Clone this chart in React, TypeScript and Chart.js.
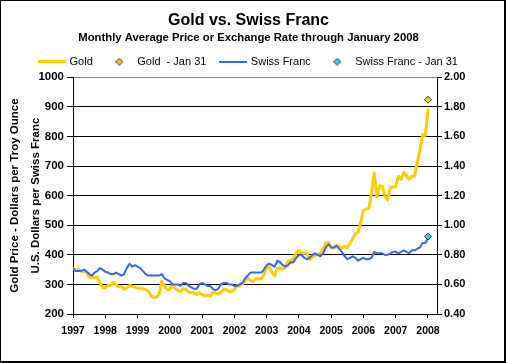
import React, { useEffect, useRef } from 'react';
import { Chart, registerables } from 'chart.js';

Chart.register(...registerables);

// ---------- data ----------
const FIRST_YEAR = 1997;

// Monthly average gold price, USD per troy ounce, Jan 1997 .. Jan 2008
const goldPrice = [
  355, 347, 352, 344, 344, 341, 324, 324, 323, 325, 306, 289,
  289, 297, 296, 308, 299, 292, 293, 284, 289, 296, 294, 291,
  287, 288, 286, 282, 277, 262, 256, 257, 265, 311, 293, 283,
  284, 300, 286, 280, 275, 286, 282, 274, 273, 270, 266, 272,
  266, 262, 263, 261, 272, 270, 268, 273, 283, 283, 276, 276,
  282, 296, 294, 302, 314, 321, 314, 310, 319, 317, 319, 333,
  357, 359, 340, 328, 355, 356, 351, 360, 379, 379, 389, 407,
  414, 405, 406, 404, 384, 392, 398, 400, 406, 420, 439, 442,
  424, 423, 434, 429, 422, 430, 424, 438, 456, 470, 476, 510,
  549, 555, 557, 610, 676, 596, 633, 632, 598, 585, 627, 629,
  631, 665, 655, 679, 667, 655, 665, 665, 712, 754, 806, 803,
  889,
];

// Monthly average exchange rate, USD per Swiss franc, Jan 1997 .. Jan 2008
const francRate = [
  0.71, 0.69, 0.69, 0.69, 0.70, 0.69, 0.67, 0.66, 0.68, 0.69, 0.71, 0.70,
  0.685, 0.68, 0.67, 0.67, 0.68, 0.67, 0.66, 0.67, 0.71, 0.74, 0.72, 0.73,
  0.72, 0.71, 0.69, 0.67, 0.66, 0.66, 0.66, 0.66, 0.66, 0.67, 0.64, 0.63,
  0.62, 0.60, 0.60, 0.60, 0.59, 0.61, 0.61, 0.59, 0.58, 0.57, 0.57, 0.60,
  0.61, 0.60, 0.59, 0.59, 0.57, 0.56, 0.57, 0.60, 0.61, 0.61, 0.60, 0.60,
  0.59, 0.59, 0.60, 0.61, 0.64, 0.66, 0.68, 0.68, 0.68, 0.68, 0.68, 0.70,
  0.73, 0.74, 0.73, 0.72, 0.76, 0.75, 0.73, 0.72, 0.73, 0.75, 0.75, 0.78,
  0.80, 0.80, 0.78, 0.77, 0.78, 0.80, 0.81, 0.80, 0.79, 0.81, 0.85, 0.87,
  0.85, 0.85, 0.86, 0.84, 0.82, 0.79, 0.77, 0.78, 0.79, 0.78, 0.76, 0.77,
  0.78, 0.77, 0.77, 0.78, 0.82, 0.81, 0.81, 0.81, 0.80, 0.80, 0.81, 0.82,
  0.82, 0.81, 0.82, 0.83, 0.82, 0.81, 0.83, 0.83, 0.84, 0.85, 0.88, 0.88,
  0.91,
];

// Jan 31, 2008 spot values
const jan31Year = [2008];
const goldJan31 = [924];
const francJan31 = [0.924];

const seriesLabels = ['Gold', 'Gold  - Jan 31', 'Swiss Franc', 'Swiss Franc - Jan 31'];
const yearTicks = [1997, 1998, 1999, 2000, 2001, 2002, 2003, 2004, 2005, 2006, 2007, 2008];
const goldTicks = [200, 300, 400, 500, 600, 700, 800, 900, 1000];
const francTicks = [0.4, 0.6, 0.8, 1.0, 1.2, 1.4, 1.6, 1.8, 2.0];
const titleText = 'Gold vs. Swiss Franc';
const subtitleText = 'Monthly Average Price or Exchange Rate through January 2008';
const leftAxisTitle = ['Gold Price - Dollars per Troy Ounce', 'U.S. Dollars per Swiss Franc'];

// ---------- styles ----------
const FONT = "'Liberation Sans', Arial, Helvetica, sans-serif";
const GOLD = '#FFCC00';
const BLUE = '#3366FF';
const CYAN = '#33CCFF';
const MARK_EDGE = '#333333';

function lineSwatch(color: string, w: number, h: number) {
  const c = document.createElement('canvas');
  c.width = w;
  c.height = h;
  const g = c.getContext('2d')!;
  g.fillStyle = color;
  g.fillRect(0, 0, w, h);
  return c;
}

function diamondSwatch(fill: string, stroke: string) {
  const c = document.createElement('canvas');
  c.width = 8;
  c.height = 8;
  const g = c.getContext('2d')!;
  g.beginPath();
  g.moveTo(4, 0.5);
  g.lineTo(7.5, 4);
  g.lineTo(4, 7.5);
  g.lineTo(0.5, 4);
  g.closePath();
  g.fillStyle = fill;
  g.fill();
  g.strokeStyle = stroke;
  g.lineWidth = 1;
  g.stroke();
  return c;
}

export default function App() {
  const ref = useRef<HTMLCanvasElement>(null);

  useEffect(() => {
    const monthX = (i: number) => FIRST_YEAR + i / 12;
    const goldPoints = goldPrice.map((v, i) => ({ x: monthX(i), y: v }));
    const francPoints = francRate.map((v, i) => ({ x: monthX(i), y: v }));
    const goldJanPoints = goldJan31.map((v, i) => ({ x: jan31Year[i], y: v }));
    const francJanPoints = francJan31.map((v, i) => ({ x: jan31Year[i], y: v }));

    const swatches = [
      lineSwatch(GOLD, 28, 3),
      diamondSwatch(GOLD, MARK_EDGE),
      lineSwatch(BLUE, 28, 2),
      diamondSwatch(CYAN, MARK_EDGE),
    ];
    const swatchColors = [GOLD, GOLD, BLUE, CYAN];

    const chart = new Chart(ref.current!, {
      type: 'line',
      data: {
        datasets: [
          {
            label: seriesLabels[0],
            data: goldPoints,
            yAxisID: 'y',
            borderColor: GOLD,
            backgroundColor: GOLD,
            borderWidth: 3,
            pointRadius: 0,
            borderJoinStyle: 'round',
            borderCapStyle: 'round',
            order: 3,
          },
          {
            label: seriesLabels[1],
            data: goldJanPoints,
            yAxisID: 'y',
            showLine: false,
            pointStyle: 'rectRot',
            pointRadius: 3.5,
            backgroundColor: GOLD,
            borderColor: MARK_EDGE,
            borderWidth: 1,
            order: 0,
          },
          {
            label: seriesLabels[2],
            data: francPoints,
            yAxisID: 'y1',
            borderColor: BLUE,
            backgroundColor: BLUE,
            borderWidth: 2,
            pointRadius: 0,
            borderJoinStyle: 'round',
            order: 2,
          },
          {
            label: seriesLabels[3],
            data: francJanPoints,
            yAxisID: 'y1',
            showLine: false,
            pointStyle: 'rectRot',
            pointRadius: 3.5,
            backgroundColor: CYAN,
            borderColor: MARK_EDGE,
            borderWidth: 1,
            order: 1,
          },
        ],
      },
      options: {
        responsive: false,
        animation: false,
        devicePixelRatio: 1,
        events: [],
        layout: { padding: { left: 0, right: 9, top: 0, bottom: 0 } },
        plugins: {
          title: {
            display: true,
            text: titleText,
            color: '#000',
            font: { family: FONT, size: 16, weight: 'bold', lineHeight: 1.55 },
            padding: { top: 8.6, bottom: 0 },
          },
          subtitle: {
            display: true,
            text: subtitleText,
            color: '#000',
            font: { family: FONT, size: 11.3, weight: 'bold', lineHeight: 0.78 },
            padding: { top: 0, bottom: 0 },
          },
          legend: {
            display: true,
            position: 'top',
            labels: {
              usePointStyle: true,
              pointStyleWidth: 25,
              padding: 14,
              color: '#000',
              font: { family: FONT, size: 11 },
              generateLabels: () =>
                seriesLabels.map((text, i) => ({
                  text,
                  pointStyle: swatches[i],
                  fillStyle: swatchColors[i],
                  strokeStyle: swatchColors[i],
                  lineWidth: 0,
                  hidden: false,
                  datasetIndex: i,
                  fontColor: '#000',
                })),
            },
          },
          tooltip: { enabled: false },
        },
        scales: {
          x: {
            type: 'linear',
            min: 1997,
            max: 2008.279,
            afterBuildTicks: (s: any) => {
              s.ticks = yearTicks.map((v) => ({ value: v }));
            },
            afterFit: (s: any) => {
              s.height = 49;
            },
            grid: { drawOnChartArea: false, drawTicks: true, tickLength: 4, color: '#000', tickColor: '#000' },
            border: { display: true, color: '#000', width: 1 },
            ticks: {
              color: '#000',
              font: { family: FONT, size: 10.5, weight: 'bold' },
              padding: 6.5,
              maxRotation: 0,
              autoSkip: false,
              callback: (v: any) => String(v),
            },
          },
          y: {
            type: 'linear',
            position: 'left',
            min: 200,
            max: 1000,
            afterBuildTicks: (s: any) => {
              s.ticks = goldTicks.map((v) => ({ value: v }));
            },
            afterFit: (s: any) => {
              s.width = 73;
            },
            grid: {
              color: (ctx: any) => (ctx.tick && ctx.tick.value === 1000 ? '#808080' : '#000'),
              tickColor: '#000',
              tickLength: 6,
              lineWidth: 1,
            },
            border: { display: true, color: '#000', width: 1 },
            ticks: {
              color: '#000',
              font: { family: FONT, size: 11.5, weight: 'bold' },
              padding: 3,
              callback: (v: any) => String(v),
            },
            title: {
              display: true,
              text: leftAxisTitle,
              color: '#000',
              font: { family: FONT, size: 11.5, weight: 'bold', lineHeight: 1.78 },
              padding: { top: 5, bottom: 0 },
            },
          },
          y1: {
            type: 'linear',
            position: 'right',
            min: 0.4,
            max: 2.0,
            afterBuildTicks: (s: any) => {
              s.ticks = francTicks.map((v) => ({ value: v }));
            },
            afterFit: (s: any) => {
              s.width = 60;
            },
            grid: { drawOnChartArea: false, drawTicks: true, tickLength: 5, color: '#000', tickColor: '#000' },
            border: { display: true, color: '#000', width: 1 },
            ticks: {
              color: '#000',
              font: { family: FONT, size: 11, weight: 'bold' },
              padding: 2,
              callback: (v: any) => Number(v).toFixed(2),
            },
          },
        },
      },
    } as any);

    return () => chart.destroy();
  }, []);

  return (
    <div style={{ position: 'fixed', left: 0, top: 0, width: 506, height: 363, background: '#fff' }}>
      <canvas
        ref={ref}
        width={506}
        height={363}
        style={{ position: 'absolute', left: 0, top: 0, width: 506, height: 363 }}
      />
      <div
        style={{
          position: 'absolute',
          left: 0,
          top: 0,
          width: 506,
          height: 363,
          boxSizing: 'border-box',
          borderStyle: 'solid',
          borderColor: '#000',
          borderWidth: '1px 2px 2px 1px',
          pointerEvents: 'none',
        }}
      />
    </div>
  );
}
